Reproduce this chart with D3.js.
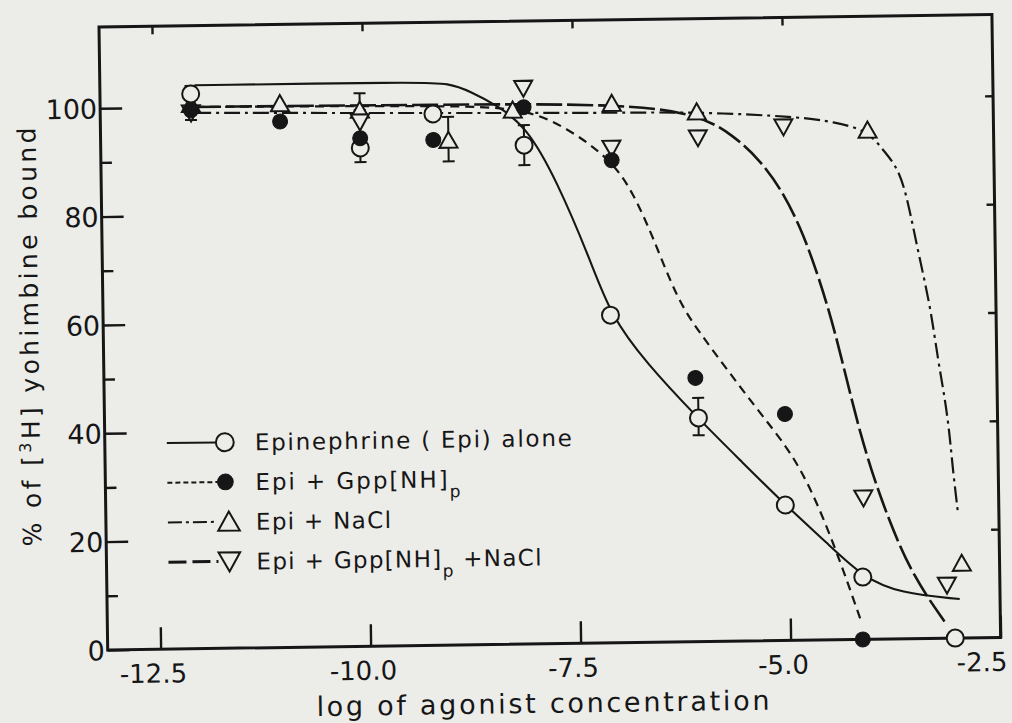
<!DOCTYPE html>
<html><head><meta charset="utf-8">
<script src="https://cdn.jsdelivr.net/npm/d3@7"></script>
<style>
html,body{margin:0;padding:0;background:#ecece9;}
svg{display:block;}
</style></head>
<body>
<svg id="chart" width="1012" height="723"></svg>
<script>
// ---- tick values / labels ----
const xTicks = [-12.5, -10, -7.5, -5, -2.5];
const xTickLabels = ["-12.5", "-10.0", "-7.5", "-5.0", "-2.5"];
const yMajor = [0, 20, 40, 60, 80, 100];
const yMinor = [10, 30, 50, 70, 90];
const yRightTicks = [20, 40, 60, 80, 100];

// ---- data points [log conc, % bound] ----
const epiPts = [[-12.05,102.4],[-10.04,92.0],[-9.17,98.1],[-8.09,92.1],[-7.09,60.5],[-6.06,41.3],[-5.04,25.0],[-4.13,11.5],[-3.04,0]];
const gppPts = [[-12.05,99.4],[-10.99,97.1],[-10.04,93.8],[-9.17,93.3],[-8.09,99.1],[-7.05,89.1],[-6.09,48.7],[-5.03,41.8],[-4.14,0]];
const naclPts = [[-12.05,100.5],[-10.99,100.4],[-10.04,99.0],[-8.99,93.2],[-8.22,98.6],[-7.04,99.6],[-6.03,97.8],[-4.0,94.0],[-2.95,13.8]];
const gppNaclPts = [[-12.05,98.9],[-10.04,96.8],[-8.09,102.6],[-7.05,91.3],[-6.02,93.0],[-5.0,94.8],[-4.11,26.1],[-3.13,9.8]];

// ---- error bars [log conc, low, high] ----
const epiErr = [[-12.05,102.4,103.9],[-10.04,89.4,92.0],[-8.09,88.4,95.8],[-6.06,38.1,45.0]];
const naclErr = [[-10.04,99.0,102.1],[-8.99,89.3,97.5]];
const gppNaclErr = [[-12.05,97.6,98.9]];

// ---- fitted curves ----
const epiCurve = [[-12.0,104.0],[-9.4,104.0],[-8.96,103.75],[-8.72,102.1],[-8.41,99.6],[-8.06,95.5],[-7.71,85.6],[-7.32,70.7],[-7.09,60.5],[-6.67,51.5],[-6.07,41.3],[-5.57,33.4],[-5.04,25.0],[-4.55,17.9],[-4.13,11.5],[-3.69,8.4],[-2.98,7.2]];
const gppCurve = [[-12.0,100.0],[-9.0,99.6],[-8.1,99.0],[-7.58,95.3],[-7.05,89.1],[-6.80,83.0],[-6.57,74.8],[-6.29,63.1],[-6.03,57.0],[-5.68,49.5],[-5.29,41.3],[-4.86,32.7],[-4.48,18.4],[-4.15,3.0]];
const naclCurve = [[-12.0,98.9],[-9.6,98.35],[-7.0,97.8],[-6.03,97.8],[-4.80,96.6],[-4.41,95.6],[-4.0,94.0],[-3.82,90.3],[-3.62,86.5],[-3.51,79.1],[-3.41,70.8],[-3.28,61.2],[-3.20,51.4],[-3.12,44.0],[-3.07,37.1],[-3.04,31.0],[-2.99,23.6]];
const gppNaclCurve = [[-12.0,100.0],[-9.0,99.8],[-7.0,99.5],[-6.03,97.6],[-5.60,93.4],[-5.28,88.7],[-5.01,82.6],[-4.82,76.3],[-4.67,70.1],[-4.42,57.5],[-4.14,37.3],[-3.83,22.5],[-3.53,11.4],[-3.16,3.0]];

const legendLabels = ["Epinephrine ( Epi) alone", "Epi + Gpp[NH]", "Epi + NaCl", "Epi + Gpp[NH]"];
const legendSubs = ["", "p", "", "p"];
const legendTails = ["", "", "", " +NaCl"];

// ---- layout ----
const W = 893, H = 623;
const ink = "#161616", paper = "#ecece9";
const FONT = "'DejaVu Sans', 'Noto Sans', sans-serif";

const svg = d3.select("#chart");
const g = svg.append("g").attr("transform", "translate(99,27) rotate(-0.8)");

const x = d3.scaleLinear().domain([-13.13, -2.5]).range([0, W]);
const y = d3.scaleLinear().domain([0, 115]).range([H, 0]);

// frame
g.append("rect").attr("x", 0).attr("y", 0).attr("width", W).attr("height", H)
  .attr("fill", "none").attr("stroke", ink).attr("stroke-width", 3);

function styleAxis(sel, fs) {
  sel.select(".domain").remove();
  sel.selectAll(".tick line").attr("stroke", ink).attr("stroke-width", 2.4);
  sel.selectAll(".tick text").attr("fill", ink).style("font-family", FONT).style("font-size", fs + "px");
}

// bottom axis
const gx = g.append("g").attr("transform", `translate(0,${H})`)
  .call(d3.axisBottom(x).tickValues(xTicks).tickSize(-22).tickPadding(15)
    .tickFormat((d, i) => xTickLabels[i]));
styleAxis(gx, 26);
gx.selectAll(".tick text").attr("dx", -8);
gx.selectAll(".tick text").filter((d, i) => i === xTicks.length - 1)
  .attr("text-anchor", "end").attr("dx", 6);

// top ticks
const gt = g.append("g").call(d3.axisTop(x).tickValues(xTicks.slice(0, 4)).tickSize(-8).tickFormat(""));
styleAxis(gt, 10);

// left axis
const gy = g.append("g").call(d3.axisLeft(y).tickValues(yMajor).tickSize(-22).tickPadding(3));
styleAxis(gy, 27);
gy.selectAll(".tick text").attr("dy", "0.36em");
const gym = g.append("g").call(d3.axisLeft(y).tickValues(yMinor).tickSize(-11).tickFormat(""));
styleAxis(gym, 10);

// right ticks
const gr = g.append("g").attr("transform", `translate(${W},0)`)
  .call(d3.axisRight(y).tickValues(yRightTicks).tickSize(-8).tickFormat(""));
styleAxis(gr, 10);

// axis titles
g.append("text").attr("x", 208).attr("y", 692)
  .attr("textLength", 453).attr("lengthAdjust", "spacing")
  .style("font-family", FONT).style("font-size", "27px").attr("fill", ink)
  .text("log of agonist concentration");

const yt = g.append("text").attr("transform", "translate(-65,309) rotate(-90)")
  .attr("text-anchor", "middle").attr("textLength", 419).attr("lengthAdjust", "spacing")
  .style("font-family", FONT).style("font-size", "25px").attr("fill", ink);
yt.append("tspan").text("% of [");
yt.append("tspan").attr("baseline-shift", "super").style("font-size", "16px").text("3");
yt.append("tspan").text("H] yohimbine bound");

// ---- series ----
const series = [
  {pts: epiPts, curve: epiCurve, err: epiErr, dash: null, w: 2.1, sym: "circle"},
  {pts: gppPts, curve: gppCurve, err: [], dash: "9,6", w: 2.2, sym: "dot"},
  {pts: naclPts, curve: naclCurve, err: naclErr, dash: "16,5,3,5", w: 2.2, sym: "up"},
  {pts: gppNaclPts, curve: gppNaclCurve, err: gppNaclErr, dash: "26,5", w: 2.6, sym: "down"}
];

const line = d3.line().x(d => x(d[0])).y(d => y(d[1])).curve(d3.curveBasis);

series.forEach(s => {
  g.append("path").datum(s.curve).attr("d", line)
    .attr("fill", "none").attr("stroke", ink).attr("stroke-width", s.w)
    .attr("stroke-dasharray", s.dash);
});

// error bars
series.forEach(s => {
  const eg = g.append("g").attr("stroke", ink).attr("stroke-width", 2);
  eg.selectAll("line.v").data(s.err).join("line").attr("class", "v")
    .attr("x1", d => x(d[0])).attr("x2", d => x(d[0]))
    .attr("y1", d => y(d[1])).attr("y2", d => y(d[2]));
  eg.selectAll("line.lo").data(s.err).join("line").attr("class", "lo")
    .attr("x1", d => x(d[0]) - 6).attr("x2", d => x(d[0]) + 6)
    .attr("y1", d => y(d[1])).attr("y2", d => y(d[1]));
  eg.selectAll("line.hi").data(s.err).join("line").attr("class", "hi")
    .attr("x1", d => x(d[0]) - 6).attr("x2", d => x(d[0]) + 6)
    .attr("y1", d => y(d[2])).attr("y2", d => y(d[2]));
});

function symbolPath(sym, k) {
  const a = 9 * k, b = 7.5 * k, c = 8.5 * k;
  if (sym === "up") return `M0,${-c}L${a},${b}L${-a},${b}Z`;
  if (sym === "down") return `M0,${c}L${a},${-b}L${-a},${-b}Z`;
  return null;
}

function drawSymbol(sel, sym, k) {
  if (sym === "circle") {
    sel.append("circle").attr("r", 8.5 * k).attr("fill", paper).attr("stroke", ink).attr("stroke-width", 2);
  } else if (sym === "dot") {
    sel.append("circle").attr("r", 7.5 * k).attr("fill", ink).attr("stroke", ink).attr("stroke-width", 1);
  } else {
    sel.append("path").attr("d", symbolPath(sym, k)).attr("fill", paper)
      .attr("stroke", ink).attr("stroke-width", 2).attr("stroke-linejoin", "miter");
  }
}

// markers (draw triangles first, then circles)
[2, 3, 0, 1].forEach(i => {
  const s = series[i];
  s.pts.forEach(p => {
    const m = g.append("g").attr("transform", `translate(${x(p[0])},${y(p[1])})`);
    drawSymbol(m, s.sym, 1);
  });
});

// ---- legend ----
const legendLen = [317, 205, 135, 285];
const lg = g.append("g").attr("transform", "translate(62,417)");
series.forEach((s, i) => {
  const row = lg.append("g").attr("transform", `translate(0,${i * 39.7})`);
  row.append("line").attr("x1", 0).attr("x2", 50).attr("y1", 0).attr("y2", 0)
    .attr("stroke", ink).attr("stroke-width", i === 3 ? 3 : 2)
    .attr("stroke-dasharray", i === 0 ? null : i === 1 ? "5,3" : i === 2 ? "14,4,3,4" : "18,6");
  const sg = row.append("g").attr("transform", `translate(${i >= 2 ? 61 : 58},0)`);
  drawSymbol(sg, s.sym, i >= 2 ? 1.2 : 1.05);
  const t = row.append("text").attr("x", 88).attr("y", 8.5)
    .attr("textLength", legendLen[i]).attr("lengthAdjust", "spacing")
    .style("font-family", FONT).style("font-size", "23px").attr("fill", ink);
  t.append("tspan").text(legendLabels[i]);
  if (legendSubs[i]) t.append("tspan").attr("baseline-shift", "sub").style("font-size", "17px").text(legendSubs[i]);
  if (legendTails[i]) t.append("tspan").text(legendTails[i]);
});
</script>
</body></html>
